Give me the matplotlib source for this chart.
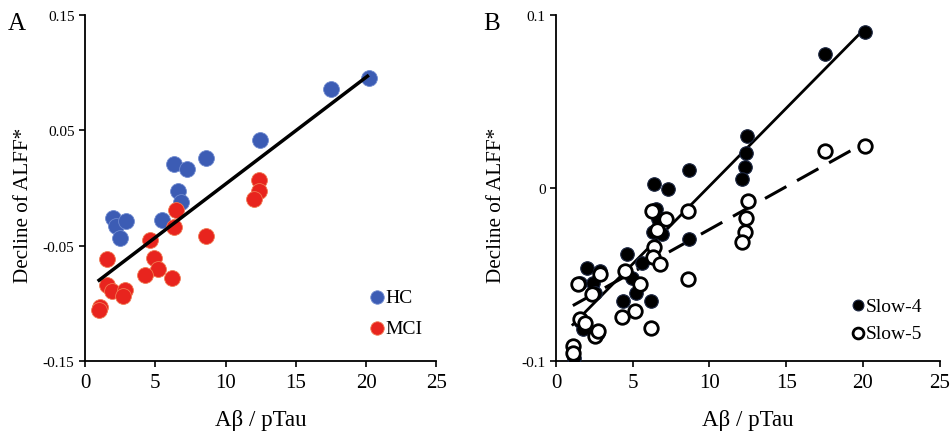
import numpy as np
import matplotlib.pyplot as plt

plt.rcParams['font.family'] = ['Liberation Serif', 'DejaVu Serif']

# Panel A data
hc_x = [20.18, 17.52, 12.46, 8.62, 6.34, 7.24, 6.6, 6.8, 2.02, 2.2, 2.9, 2.46, 5.46]
hc_y = [0.0958, 0.0857, 0.0418, 0.026, 0.0208, 0.0165, -0.0023, -0.012, -0.026, -0.0326, -0.0288, -0.0433, -0.0274]
mci_x = [12.4, 12.35, 12.04, 6.48, 6.35, 8.6, 4.63, 1.56, 4.91, 5.22, 4.3, 6.2, 1.56, 1.9, 2.85, 2.7, 1.1, 1.02]
mci_y = [0.007, -0.0028, -0.0098, -0.0187, -0.0335, -0.042, -0.0447, -0.0615, -0.0604, -0.070, -0.0753, -0.078, -0.0845, -0.0895, -0.0888, -0.0935, -0.1028, -0.106]
fit_a_x = [1.0, 20.1]
fit_a_y = [-0.080, 0.097]

# Panel B data
slow4_x = [20.16, 17.51, 12.48, 12.41, 12.3, 12.09, 8.66, 6.4, 7.31, 6.55, 6.66, 6.34, 6.88, 8.66,
           4.6, 5.58, 4.93, 5.21, 4.38, 6.16, 2.0, 2.86, 1.56, 2.43, 2.54, 1.56, 1.78, 2.76, 1.13, 1.13, 1.2]
slow4_y = [0.0904, 0.0774, 0.0302, 0.0205, 0.0119, 0.0051, 0.0103, 0.0026, -0.0003, -0.0122, -0.018, -0.0257, -0.0267, -0.0296,
           -0.0383, -0.0431, -0.0518, -0.0605, -0.0653, -0.0653, -0.046, -0.048, -0.0547, -0.0547, -0.0605, -0.0768, -0.0817, -0.0836, -0.0923, -0.0961, -0.0985]
slow5_x = [20.16, 17.51, 12.52, 12.41, 12.35, 12.09, 8.62, 8.62, 6.23, 7.2, 6.38, 6.34, 6.77,
           4.49, 5.47, 5.14, 4.28, 6.16, 2.86, 1.45, 2.32, 1.56, 2.54, 2.76, 1.13, 1.13, 6.6, 1.9]
slow5_y = [0.0244, 0.0215, -0.0074, -0.0171, -0.0254, -0.0311, -0.0132, -0.0527, -0.0132, -0.018, -0.0344, -0.040, -0.044,
           -0.048, -0.0556, -0.071, -0.0745, -0.0807, -0.050, -0.0556, -0.0614, -0.0755, -0.0855, -0.0826, -0.0913, -0.0952, -0.024, -0.078]
fit4_x = [1.1, 20.1]
fit4_y = [-0.079, 0.092]
fit5_x = [1.1, 20.1]
fit5_y = [-0.068, 0.026]

fig = plt.figure(figsize=(9.52, 4.35), dpi=100)
axA = fig.add_axes([0.0893, 0.168, 0.369, 0.795])
axB = fig.add_axes([0.584, 0.168, 0.403, 0.795])

for ax in (axA, axB):
    ax.spines['top'].set_visible(False)
    ax.spines['right'].set_visible(False)
    ax.spines['left'].set_linewidth(1.3)
    ax.spines['bottom'].set_linewidth(1.3)
    ax.tick_params(direction='out', length=4, width=1.2)
    ax.tick_params(axis='y', labelsize=11)
    ax.tick_params(axis='x', labelsize=15, pad=5)
    ax.set_xlim(0, 25)
    ax.set_xticks([0, 5, 10, 15, 20, 25])
    ax.set_xlabel('Aβ / pTau', fontsize=16.5, labelpad=12)
    ax.set_ylabel('Decline of ALFF*', fontsize=15.2)

axA.yaxis.set_label_coords(-0.149, 0.454)
axB.yaxis.set_label_coords(-0.131, 0.454)

# Panel A
axA.set_ylim(-0.15, 0.15)
axA.set_yticks([-0.15, -0.05, 0.05, 0.15])
axA.set_yticklabels(['-0.15', '-0.05', '0.05', '0.15'])
axA.scatter(hc_x, hc_y, s=130, color='#3c5cb4', edgecolors='#6f8ad0', linewidths=0.6, zorder=3, label='HC')
axA.scatter(mci_x, mci_y, s=130, color='#e8241e', edgecolors='#f07a52', linewidths=0.6, zorder=3, label='MCI')
axA.plot(fit_a_x, fit_a_y, color='black', lw=2.5, zorder=4)
axA.legend(loc='upper left', bbox_to_anchor=(0.81, 0.21), frameon=False, fontsize=14,
           borderpad=0, borderaxespad=0, handlelength=0.8, handletextpad=0.0,
           labelspacing=0.7, markerscale=0.85)
fig.text(0.008, 0.93, 'A', fontsize=18)

# Panel B
axB.set_ylim(-0.1, 0.1)
axB.set_yticks([-0.1, 0, 0.1])
axB.set_yticklabels(['-0.1', '0', '0.1'])
axB.scatter(slow4_x, slow4_y, s=95, color='black', edgecolors='#1a2540', linewidths=0.8, zorder=3, label='Slow-4')
axB.scatter(slow5_x, slow5_y, s=95, facecolors='white', edgecolors='black', linewidths=2.0, zorder=3, label='Slow-5')
axB.plot(fit4_x, fit4_y, color='black', lw=2.0, zorder=2)
axB.plot(fit5_x, fit5_y, color='black', lw=2.2, dashes=(8, 4), zorder=2)
axB.legend(loc='upper left', bbox_to_anchor=(0.766, 0.185), frameon=False, fontsize=14,
           borderpad=0, borderaxespad=0, handlelength=0.8, handletextpad=0.0,
           labelspacing=0.5, markerscale=0.8)
fig.text(0.508, 0.93, 'B', fontsize=18)

fig.savefig('out.png', dpi=100)
